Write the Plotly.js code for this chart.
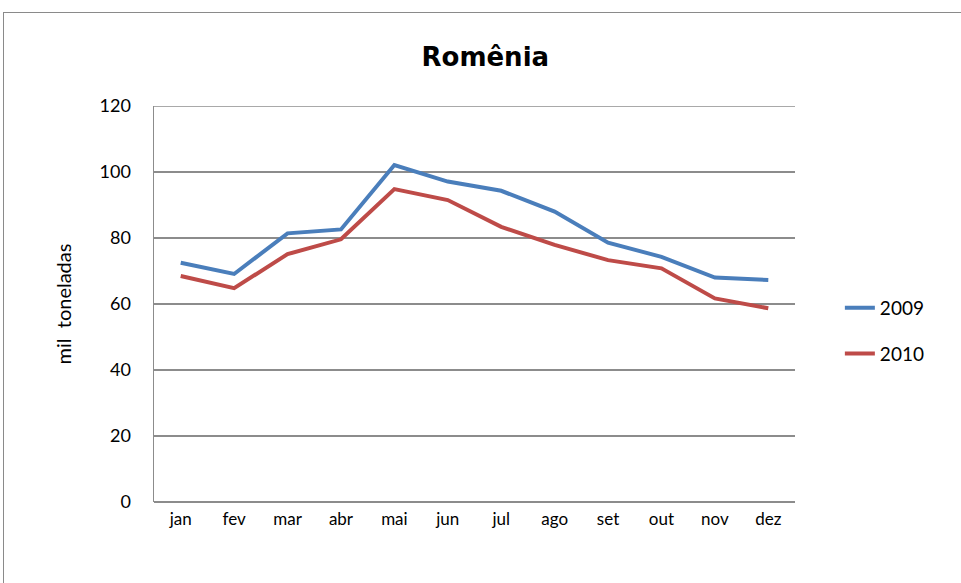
<!DOCTYPE html>
<html>
<head>
<meta charset="utf-8">
<script src="https://cdn.plot.ly/plotly-3.0.1.min.js"></script>
<style>
  html, body { margin: 0; padding: 0; background: #fff; overflow: hidden; }
  #wrap { position: relative; width: 961px; height: 583px; }
  #chart { position: absolute; left: 0; top: 0; width: 961px; height: 583px; }
  #frame { position: absolute; left: 3px; top: 12px; width: 1000px; height: 700px;
           border: 1.5px solid #8a8a8a; pointer-events: none; box-sizing: border-box; }
</style>
</head>
<body>
<div id="wrap">
  <div id="chart"></div>
  <div id="frame"></div>
</div>
<script>
const months = ["jan","fev","mar","abr","mai","jun","jul","ago","set","out","nov","dez"];
const series2009 = [72.5, 69.1, 81.4, 82.6, 102.1, 97.1, 94.3, 88.0, 78.6, 74.3, 68.0, 67.3];
const series2010 = [68.5, 64.8, 75.1, 79.6, 94.8, 91.5, 83.4, 77.9, 73.3, 70.8, 61.7, 58.7];
const yTicks = [0, 20, 40, 60, 80, 100, 120];
const yMax = 120;

const font = "Lato, 'Open Sans', sans-serif";

const traces = [
  { x: months, y: series2009, name: "2009", type: "scatter", mode: "lines",
    line: { color: "#4a7ebb", width: 4 }, legendgroup: "a" },
  { x: months, y: series2010, name: "2010", type: "scatter", mode: "lines",
    line: { color: "#be4b48", width: 4 }, legendgroup: "b" }
];

const layout = {
  width: 961, height: 583,
  margin: { l: 154, r: 166, t: 106, b: 81 },
  paper_bgcolor: "rgba(0,0,0,0)",
  plot_bgcolor: "#fff",
  showlegend: true,
  title: { text: "<b>Romênia</b>", x: 0.505, xanchor: "center", y: 0.902, yanchor: "middle",
           font: { family: "'DejaVu Sans', sans-serif", size: 26, color: "#000" } },
  xaxis: {
    type: "category", range: [-0.5, 11.5],
    showgrid: false, showline: false, zeroline: false,
    ticks: "", ticklabelstandoff: 5,
    tickfont: { family: font, size: 17, color: "#000" }
  },
  yaxis: {
    range: [0, yMax], tickvals: yTicks, ticktext: yTicks.map(String),
    showgrid: true, gridcolor: "#8c8c8c", gridwidth: 1.5,
    showline: true, linecolor: "#8c8c8c", linewidth: 1.5,
    zeroline: true, zerolinecolor: "#8c8c8c", zerolinewidth: 1.5,
    ticks: "", ticklabelstandoff: 18,
    tickfont: { family: font, size: 18, color: "#000" },
    title: { text: "mil  toneladas", standoff: 22, font: { family: font, size: 20, color: "#000" } }
  },
  shapes: [
    { type: "line", xref: "paper", x0: 0, x1: 1, yref: "y", y0: yMax, y1: yMax,
      line: { color: "#8c8c8c", width: 1.5 }, layer: "below" }
  ],
  legend: {
    x: 1.07, xanchor: "left", y: 0.432, yanchor: "middle",
    traceorder: "grouped", tracegroupgap: 18,
    font: { family: font, size: 19, color: "#000" },
    bgcolor: "rgba(0,0,0,0)"
  }
};

Plotly.newPlot("chart", traces, layout, { displayModeBar: false, staticPlot: true });
</script>
</body>
</html>
